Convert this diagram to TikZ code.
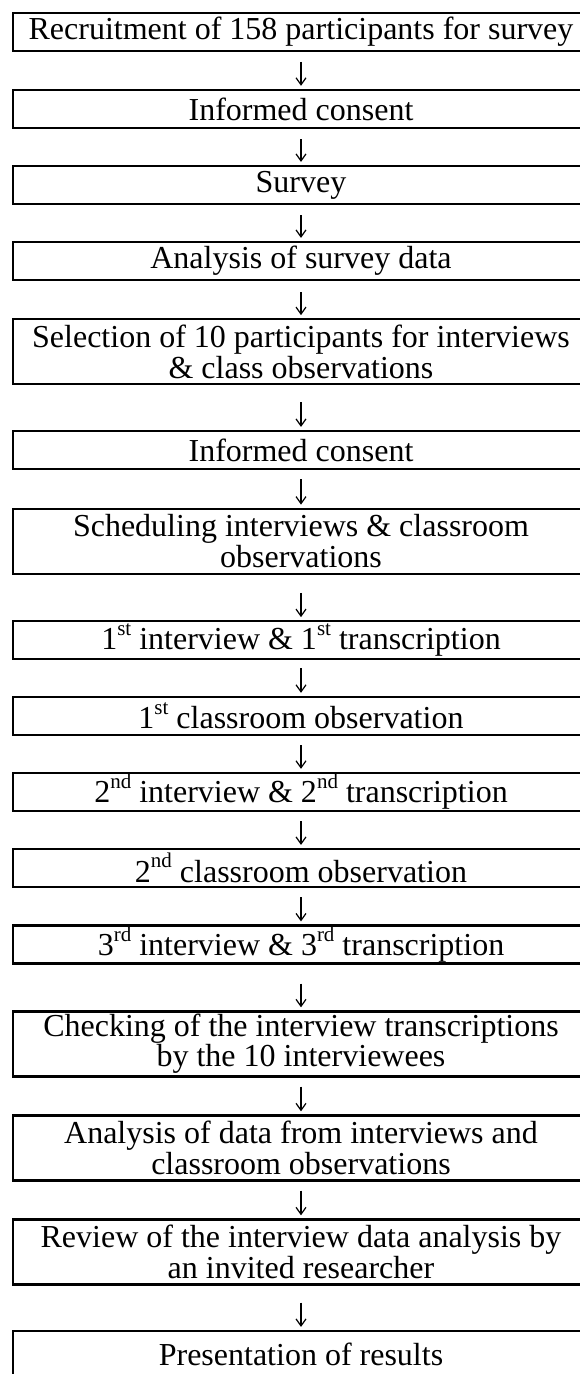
\documentclass[tikz,border=0pt]{standalone}
\usepackage{fontspec}
\setmainfont{Liberation Serif}
\usepackage{tikz}
\usetikzlibrary{arrows.meta,positioning}
\newcommand{\stpfont}{\fontsize{32}{30.5}\selectfont}
\newcommand{\stpsup}[1]{\raisebox{0.45em}{\fontsize{21}{21}\selectfont #1}}
\tikzset{
  stp_box/.style = {rectangle, draw=black, line width=2.2pt, inner sep=0pt,
    minimum width=576pt, minimum height=38pt, align=center,
    font=\stpfont},% one line of text
  stp_box2/.style = {stp_box, minimum height=65pt},% two lines of text
  stp_arr/.style = {-{Straight Barb[length=7pt,width=10pt]}, line width=1.2pt,
    shorten >=3pt}% arrow between steps
}

\begin{document}
\begin{tikzpicture}[x=1pt,y=-1pt]
        \useasboundingbox (0,0) rectangle (580,1374);
        \node [stp_box] (n1) at (301,31.7) {Recruitment of 158 participants for survey};
        \node [stp_box] (n2) at (301,108.9) {Informed consent};
        \node [stp_box] (n3) at (301,185) {Survey};
        \node [stp_box] (n4) at (301,261) {Analysis of survey data};
        \node [stp_box2] (n5) at (301,351.7) {Selection of 10 participants for interviews\\ \& class observations};
        \node [stp_box] (n6) at (301,450) {Informed consent};
        \node [stp_box2] (n7) at (301,541.2) {Scheduling interviews \& classroom\\ observations};
        \node [stp_box] (n8) at (301,640.2) {1\stpsup{st} interview \& 1\stpsup{st} transcription};
        \node [stp_box] (n9) at (301,715.9) {1\stpsup{st} classroom observation};
        \node [stp_box] (n10) at (301,791.9) {2\stpsup{nd} interview \& 2\stpsup{nd} transcription};
        \node [stp_box] (n11) at (301,868) {2\stpsup{nd} classroom observation};
        \node [stp_box] (n12) at (301,944.5) {3\stpsup{rd} interview \& 3\stpsup{rd} transcription};
        \node [stp_box2] (n13) at (301,1043.9) {Checking of the interview transcriptions\\ by the 10 interviewees};
        \node [stp_box2] (n14) at (301,1147.9) {Analysis of data from interviews and\\ classroom observations};
        \node [stp_box2] (n15) at (301,1251.9) {Review of the interview data analysis by\\ an invited researcher};
        \node [stp_box, minimum height=46pt] (n16) at (301,1354) {Presentation of results};
        % arrows: from / to / start gap
        \foreach \a/\b/\g in {n1/n2/10, n2/n3/10, n3/n4/10, n4/n5/11, n5/n6/17,
            n6/n7/9, n7/n8/18, n8/n9/8, n9/n10/9, n10/n11/9, n11/n12/9,
            n12/n13/19, n13/n14/9, n14/n15/9, n15/n16/17}
          \draw [stp_arr, shorten <=\g pt] (\a.south) -- (\b.north);
\end{tikzpicture}
\end{document}
